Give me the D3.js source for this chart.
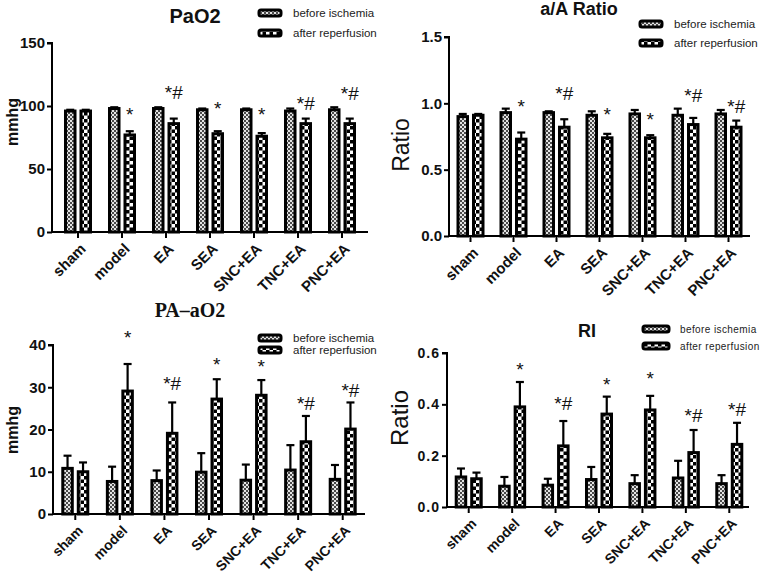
<!DOCTYPE html>
<html><head><meta charset="utf-8">
<script src="https://cdn.jsdelivr.net/npm/d3@7"></script>
<style>
body{margin:0;background:#fff;}
svg{display:block;}
text{font-family:"Liberation Sans",Arial,sans-serif;}
</style></head>
<body><svg id="c" width="764" height="573"></svg>
<script>
const categories = ["sham","model","EA","SEA","SNC+EA","TNC+EA","PNC+EA"];
const seriesNames = ["before ischemia","after reperfusion"];

const pao2Before    = [96, 98, 98, 97, 97, 96, 97];
const pao2BeforeErr = [1, 1, 1, 1, 1, 2, 2];
const pao2After     = [96, 77, 86, 78, 76, 86, 86];
const pao2AfterErr  = [1, 3, 4, 2, 2.5, 4, 4];
const pao2Marks     = ["", "*", "*#", "*", "*", "*#", "*#"];
const pao2MarkY     = [null, 97, 111, 101.5, 97, 102.6, 110];
const pao2Ticks     = [0, 50, 100, 150];

const ratioBefore    = [0.90, 0.93, 0.93, 0.91, 0.92, 0.91, 0.92];
const ratioBeforeErr = [0.02, 0.03, 0.01, 0.03, 0.03, 0.05, 0.03];
const ratioAfter     = [0.91, 0.73, 0.82, 0.74, 0.74, 0.84, 0.82];
const ratioAfterErr  = [0.01, 0.05, 0.06, 0.03, 0.02, 0.05, 0.05];
const ratioMarks     = ["", "*", "*#", "*", "*", "*#", "*#"];
const ratioMarkY     = [null, 1.01, 1.075, 0.95, 0.91, 1.06, 0.98];
const ratioTicks     = [0, 0.5, 1.0, 1.5];

const paaBefore    = [10.8, 7.7, 7.9, 9.9, 8.0, 10.4, 8.2];
const paaBeforeErr = [3.0, 3.5, 2.4, 4.5, 3.7, 5.9, 3.4];
const paaAfter     = [10.0, 29.1, 19.1, 27.2, 28.1, 17.1, 20.1];
const paaAfterErr  = [2.2, 6.4, 7.3, 4.7, 3.6, 6.1, 6.3];
const paaMarks     = ["", "*", "*#", "*", "*", "*#", "*#"];
const paaMarkY     = [null, 42.8, 30.9, 36.5, 36, 26.2, 29.4];
const paaTicks     = [0, 10, 20, 30, 40];

const riBefore    = [0.117, 0.081, 0.085, 0.107, 0.091, 0.113, 0.091];
const riBeforeErr = [0.033, 0.036, 0.025, 0.049, 0.033, 0.067, 0.033];
const riAfter     = [0.110, 0.390, 0.238, 0.362, 0.378, 0.212, 0.244];
const riAfterErr  = [0.024, 0.097, 0.097, 0.068, 0.055, 0.088, 0.084];
const riMarks     = ["", "*", "*#", "*", "*", "*#", "*#"];
const riMarkY     = [null, 0.554, 0.404, 0.495, 0.52, 0.358, 0.38];
const riTicks     = [0, 0.2, 0.4, 0.6];

const svg = d3.select("#c");
const defs = svg.append("defs");
// fine pattern (before ischemia)
const pf = defs.append("pattern").attr("id","pBefore").attr("patternUnits","userSpaceOnUse")
  .attr("width",4).attr("height",4);
pf.append("rect").attr("width",4).attr("height",4).attr("fill","#e4e4e4");
pf.append("rect").attr("x",0).attr("y",0).attr("width",2).attr("height",2).attr("fill","#4a4a4a");
pf.append("rect").attr("x",2).attr("y",2).attr("width",2).attr("height",2).attr("fill","#4a4a4a");
// coarse checker (after reperfusion)
const pc = defs.append("pattern").attr("id","pAfter").attr("patternUnits","userSpaceOnUse")
  .attr("width",7).attr("height",7);
pc.append("rect").attr("width",7).attr("height",7).attr("fill","#fff");
pc.append("rect").attr("x",0).attr("y",0).attr("width",3.5).attr("height",3.5).attr("fill","#000");
pc.append("rect").attr("x",3.5).attr("y",3.5).attr("width",3.5).attr("height",3.5).attr("fill","#000");
const fills = ["url(#pBefore)","url(#pAfter)"];

function drawPanel(cfg, before, beforeErr, after, afterErr, marks, markY, ticks){
  const g = svg.append("g");
  const x = d3.scaleBand().domain(categories).range(cfg.band).padding(0);
  const y = d3.scaleLinear().domain([0, ticks[ticks.length-1]]).range([cfg.yBot, cfg.yTop]);
  const bw = 9.5, sw = 3, gap = 3;
  const series = [
    {vals: before, errs: beforeErr, off: -gap/2 - sw/2 - bw, fill: fills[0]},
    {vals: after, errs: afterErr, off: gap/2 + sw/2, fill: fills[1]}
  ];
  series.forEach(s => {
    const grp = g.append("g");
    const items = categories.map((c,i)=>({c, v:s.vals[i], e:s.errs[i]}));
    grp.selectAll("line.err").data(items).join("line")
      .attr("x1", d => x(d.c)+x.bandwidth()/2 + s.off + bw/2)
      .attr("x2", d => x(d.c)+x.bandwidth()/2 + s.off + bw/2)
      .attr("y1", d => y(d.v)).attr("y2", d => y(d.v + d.e))
      .attr("stroke","#000").attr("stroke-width",2.2);
    grp.selectAll("line.cap").data(items).join("line")
      .attr("x1", d => x(d.c)+x.bandwidth()/2 + s.off + bw/2 - 4)
      .attr("x2", d => x(d.c)+x.bandwidth()/2 + s.off + bw/2 + 4)
      .attr("y1", d => y(d.v + d.e)).attr("y2", d => y(d.v + d.e))
      .attr("stroke","#000").attr("stroke-width",2.2);
    grp.selectAll("rect").data(items).join("rect")
      .attr("x", d => x(d.c)+x.bandwidth()/2 + s.off)
      .attr("width", bw)
      .attr("y", d => y(d.v))
      .attr("height", d => y(0) - y(d.v))
      .attr("fill", s.fill).attr("stroke","#000").attr("stroke-width",sw);
  });
  // significance marks
  g.selectAll("text.mark").data(categories.map((c,i)=>({c, m:marks[i], my:markY[i]})).filter(d=>d.m))
    .join("text")
    .attr("x", d => x(d.c)+x.bandwidth()/2 + gap/2 + sw/2 + bw/2)
    .attr("y", d => y(d.my) + (d.m.includes("#") ? 7 : 11))
    .attr("text-anchor","middle")
    .attr("font-size", cfg.markSize).attr("fill","#111")
    .text(d => d.m);
  // axes
  const yAxis = d3.axisLeft(y).tickValues(ticks).tickSize(5).tickPadding(2)
    .tickFormat(cfg.fmt);
  const ya = g.append("g").attr("transform",`translate(${cfg.x0},0)`).call(yAxis);
  ya.select(".domain").attr("stroke-width",2).attr("d",`M-5,${cfg.yTop}H0V${cfg.yBot}`);
  ya.selectAll(".tick line").attr("stroke-width",2);
  ya.selectAll(".tick text").attr("font-size",cfg.tickSize).attr("font-weight","bold")
    .attr("fill","#111").style("letter-spacing", cfg.tickLS || "0px");
  const xa = g.append("g").attr("transform",`translate(0,${cfg.yBot})`)
    .call(d3.axisBottom(x).tickSize(6).tickFormat(""));
  xa.select(".domain").attr("stroke-width",2).attr("d",`M${cfg.x0},0H${cfg.x1}`);
  xa.selectAll(".tick line").attr("stroke-width",2);
  g.selectAll("text.xl").data(categories).join("text")
    .attr("transform", d => `translate(${x(d)+x.bandwidth()/2+5},${cfg.yBot+14}) rotate(-45)`)
    .attr("text-anchor","end").attr("dy","0.35em")
    .attr("font-size",cfg.xlSize).attr("font-weight","bold").attr("fill","#111")
    .text(d=>d);
  // title
  g.append("text").attr("x",cfg.titleX).attr("y",cfg.titleY).attr("text-anchor","middle")
    .attr("font-size",cfg.titleSize).attr("font-weight","bold")
    .style("font-family", cfg.titleFont || null).attr("fill","#111").text(cfg.title);
  // y label
  g.append("text").attr("transform",`translate(${cfg.ylX},${cfg.ylY}) rotate(-90)`)
    .attr("text-anchor","middle").attr("dy","0.35em")
    .attr("font-size",cfg.ylSize).attr("font-weight",cfg.ylWeight).attr("fill","#111")
    .text(cfg.ylabel);
  // legend
  seriesNames.forEach((nm,i) => {
    g.append("rect").attr("x",cfg.legX).attr("y",cfg.legY[i]-3).attr("width",cfg.legW).attr("height",6)
      .attr("rx",2).attr("fill",fills[i]).attr("stroke","#000").attr("stroke-width",3);
    g.append("text").attr("x",cfg.legTX).attr("y",cfg.legY[i]).attr("dy","0.35em")
      .attr("font-size",cfg.legSize).attr("fill","#222").style("letter-spacing", cfg.legLS || "0px")
      .text(nm);
  });
}

drawPanel({x0:52, x1:368, band:[56,364], yTop:43, yBot:232, fmt:d3.format("d"),
  tickSize:15, xlSize:15, markSize:19,
  title:"PaO2", titleX:195, titleY:23, titleSize:20,
  ylabel:"mmhg", ylX:12, ylY:122, ylSize:16, ylWeight:"bold",
  legX:259, legW:22, legY:[13,33], legTX:293, legSize:11.5},
  pao2Before, pao2BeforeErr, pao2After, pao2AfterErr, pao2Marks, pao2MarkY, pao2Ticks);

drawPanel({x0:449, x1:750, band:[449,750], yTop:37, yBot:236, fmt:d3.format(".1f"),
  tickSize:15, xlSize:15, markSize:19,
  title:"a/A Ratio", titleX:579, titleY:15, titleSize:18,
  ylabel:"Ratio", ylX:401, ylY:145, ylSize:23, ylWeight:"normal",
  legX:640, legW:22, legY:[24,43], legTX:674, legSize:11.5},
  ratioBefore, ratioBeforeErr, ratioAfter, ratioAfterErr, ratioMarks, ratioMarkY, ratioTicks);

drawPanel({x0:53, x1:365, band:[53,365], yTop:345, yBot:514, fmt:d3.format("d"),
  tickSize:15, xlSize:14, markSize:19,
  title:"PA\u2013aO2", titleX:190, titleY:317, titleSize:20, titleFont:"'Liberation Serif','DejaVu Serif',serif",
  ylabel:"mmhg", ylX:12, ylY:430, ylSize:16, ylWeight:"bold",
  legX:259, legW:22, legY:[338,350], legTX:293, legSize:11.5},
  paaBefore, paaBeforeErr, paaAfter, paaAfterErr, paaMarks, paaMarkY, paaTicks);

drawPanel({x0:447, x1:749, band:[447,751], yTop:353, yBot:507, fmt:d3.format(".1f"),
  tickSize:14, tickLS:"1px", xlSize:14, markSize:19,
  title:"RI", titleX:587, titleY:337, titleSize:18,
  ylabel:"Ratio", ylX:400, ylY:418, ylSize:24, ylWeight:"normal",
  legX:643, legW:26, legY:[329,346], legTX:680, legSize:10, legLS:"0.4px"},
  riBefore, riBeforeErr, riAfter, riAfterErr, riMarks, riMarkY, riTicks);
</script>
</body></html>
